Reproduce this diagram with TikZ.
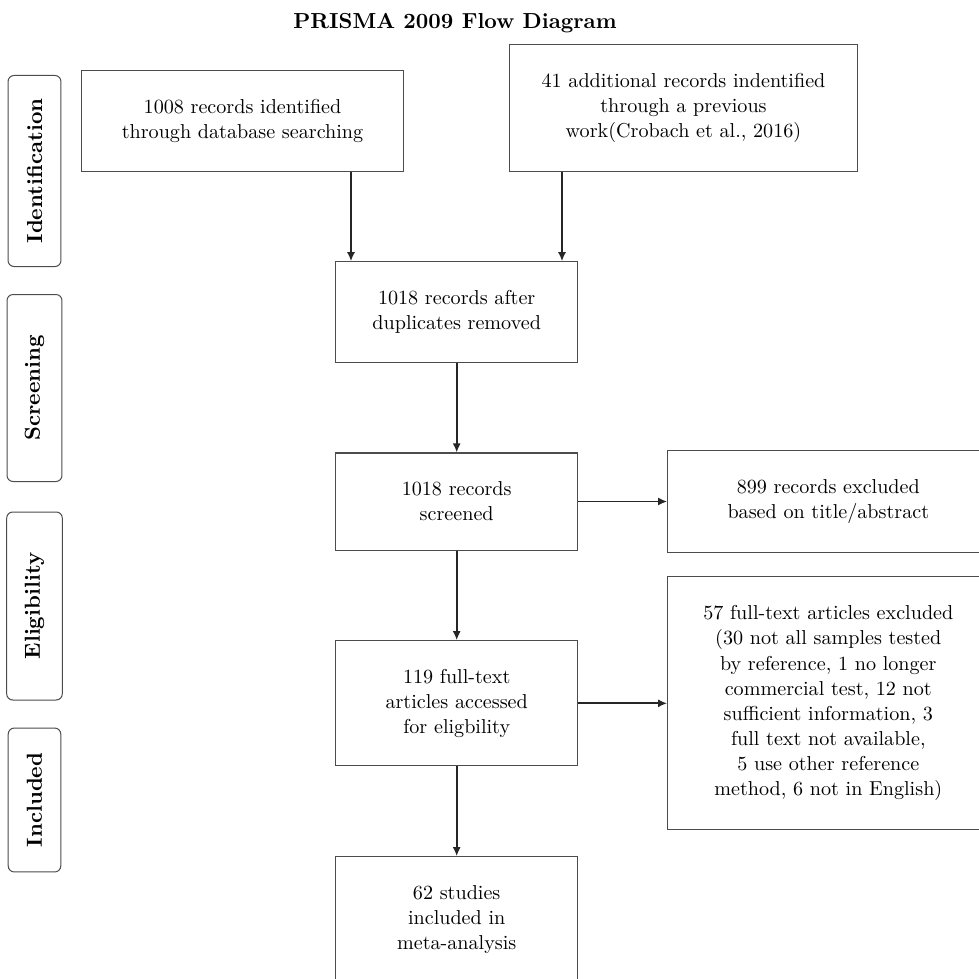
\documentclass[tikz,border=0pt]{standalone}
\usetikzlibrary{arrows.meta}
\begin{document}
\begin{tikzpicture}[x=0.4968pt,y=-0.4968pt,
  box/.style={draw=black!70, line width=0.5pt, align=center, inner sep=0pt, font=\fontsize{10}{12.5}\selectfont},
  lab/.style={draw=black!70, line width=0.5pt, rounded corners=3pt, rotate=90, inner sep=0pt, font=\fontsize{10.8}{13}\selectfont\bfseries},
  arr/.style={-{Latex[length=4.5pt,width=4pt]}, line width=0.9pt, draw=black!85}]
\useasboundingbox (0,0) rectangle (979,979);
\clip (0,0) rectangle (979,979);

\node[font=\fontsize{10.8}{13}\selectfont\bfseries, anchor=base] (title) at (455,28) {PRISMA 2009 Flow Diagram};

% phase labels
\node[lab, minimum width=94.9pt, minimum height=26.3pt] (lid) at (34.5,171) {Identification};
\node[lab, minimum width=92.9pt, minimum height=27.3pt] (lsc) at (34.5,388) {Screening};
\node[lab, minimum width=93.4pt, minimum height=27.6pt] (lel) at (34.5,606) {Eligibility};
\node[lab, minimum width=71.5pt, minimum height=26.1pt] (lin) at (34.5,800) {Included};

% boxes
\node[box, minimum width=159.5pt, minimum height=50.0pt] (A) at (242.5,121.3)
  {1008 records identified\\through database searching};
\node[box, minimum width=172.4pt, minimum height=63.2pt] (B) at (683.5,108.1)
  {41 additional records indentified\\through a previous\\work(Crobach et al., 2016)};
\node[box, minimum width=120.2pt, minimum height=49.8pt] (C) at (456.7,311.9)
  {1018 records after\\duplicates removed};
\node[box, minimum width=120.2pt, minimum height=48.2pt] (D) at (456.7,501.5)
  {1018 records\\screened};
\node[box, minimum width=159.6pt, minimum height=50.3pt] (E) at (828.3,501.5)
  {899 records excluded\\based on title/abstract};
\node[box, minimum width=120.2pt, minimum height=62.2pt] (F) at (456.7,703.3)
  {119 full-text\\articles accessed\\for eligbility};
\node[box, minimum width=159.6pt, minimum height=125.8pt] (G) at (828.3,703.3)
  {57 full-text articles excluded\\(30 not all samples tested\\by reference, 1 no longer\\commercial test, 12 not\\sufficient information, 3\\full text not available,\\5 use other reference\\method, 6 not in English)};
\node[box, minimum width=120.2pt, minimum height=62.2pt] (H) at (456.7,919.3)
  {62 studies\\included in\\meta-analysis};

% connectors
\coordinate (ax) at (351,0);
\coordinate (bx) at (562,0);
\draw[arr] (A.south -| ax) -- (C.north -| ax);
\draw[arr] (B.south -| bx) -- (C.north -| bx);
\draw[arr] (C) -- (D);
\draw[arr] (D) -- (E);
\draw[arr] (D) -- (F);
\draw[arr] (F) -- (G);
\draw[arr] (F) -- (H);
\end{tikzpicture}
\end{document}
